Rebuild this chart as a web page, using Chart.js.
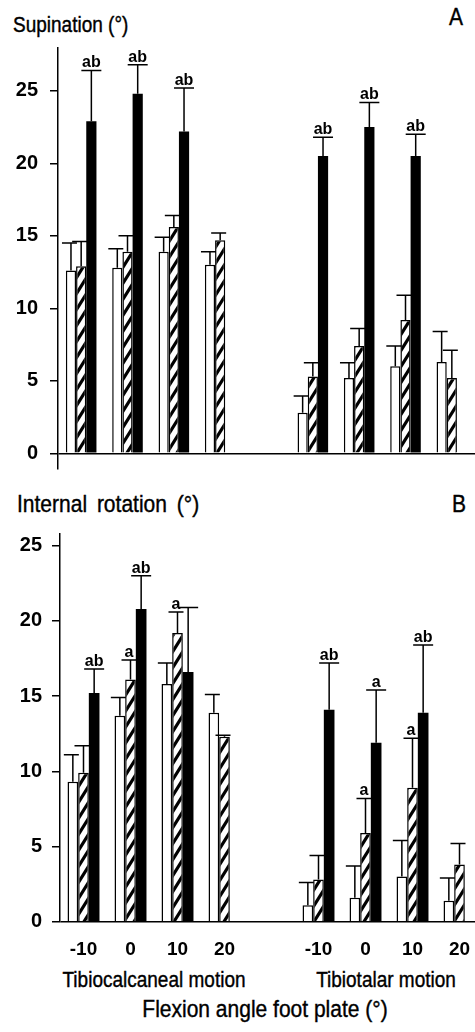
<!DOCTYPE html>
<html>
<head>
<meta charset="utf-8">
<script src="https://cdn.jsdelivr.net/npm/chart.js@4.4.1/dist/chart.umd.min.js"></script>
<style>
  body { margin: 0; width: 475px; height: 1032px; overflow: hidden; position: relative; background: #fff;
         font-family: "Liberation Sans", Arial, sans-serif; color: #000; }
  .lbl { position: absolute; white-space: nowrap; font-size: 19px; line-height: 19px;
         -webkit-text-stroke: 0.35px #000; transform-origin: 0 16px; transform: scaleY(1.18); }
  .big { font-size: 21px; line-height: 21px; transform-origin: 0 18px; }
  .mid { transform: translateX(-50%) scaleY(1.12); transform-origin: 50% 16px; }
  canvas { position: absolute; left: 0; }
</style>
</head>
<body>
<div class="lbl" style="left:13px;top:16px">Supination (°)</div>
<div class="lbl big" style="left:449px;top:7px">A</div>
<div class="lbl big" style="left:17px;top:494px;word-spacing:4px">Internal rotation (°)</div>
<div class="lbl big" style="left:452px;top:494px">B</div>
<div class="lbl mid" style="left:154px;top:971px">Tibiocalcaneal motion</div>
<div class="lbl mid" style="left:386px;top:971px">Tibiotalar motion</div>
<div class="lbl big mid" style="left:265px;top:999px">Flexion angle foot plate (°)</div>
<canvas id="supination" width="475" height="470" style="top:0"></canvas>
<canvas id="rotation" width="490" height="552" style="top:480px"></canvas>
<script>
// flexion angles, tibiocalcaneal block, empty gap, tibiotalar block
const categories = ["-10", "0", "10", "20", "", "-10", "0", "10", "20"];
const yTickValues = [0, 5, 10, 15, 20, 25];

// A: supination (deg), mean and upper SD
const supOpen = [12.6, 12.8, 13.9, 13.0, null, 2.8, 5.2, 6.0, 6.3];
const supOpenSd = [1.9, 1.3, 1.0, 0.9, null, 1.15, 1.05, 1.4, 2.1];
const supHatch = [12.9, 13.9, 15.6, 14.7, null, 5.3, 7.4, 9.2, 5.2];
const supHatchSd = [1.7, 1.1, 0.8, 0.5, null, 0.95, 1.2, 1.7, 1.9];
const supSolid = [22.9, 24.8, 22.2, null, null, 20.5, 22.5, 20.5, null];
const supSolidSd = [3.5, 2.0, 3.0, null, null, 1.3, 1.7, 1.5, null];
const supSolidSig = ["ab", "ab", "ab", "", "", "ab", "ab", "ab", ""];

// B: internal rotation (deg)
const rotOpen = [9.3, 13.7, 15.8, 13.9, null, 1.1, 1.6, 3.0, 1.4];
const rotOpenSd = [1.8, 1.2, 1.4, 1.2, null, 1.5, 2.1, 2.4, 1.5];
const rotHatch = [9.9, 16.1, 19.2, 12.3, null, 2.8, 5.9, 8.9, 3.8];
const rotHatchSd = [1.8, 1.3, 1.4, 0.1, null, 1.6, 2.3, 3.3, 1.4];
const rotHatchSig = ["", "a", "a", "", "", "", "a", "a", ""];
const rotSolid = [15.2, 20.8, 16.6, null, null, 14.1, 11.9, 13.9, null];
const rotSolidSd = [1.6, 2.2, 4.3, null, null, 3.1, 3.5, 4.5, null];
const rotSolidSig = ["ab", "ab", "", "", "", "ab", "a", "ab", ""];

const FONT = '"Liberation Sans", Arial, sans-serif';

function hatchPattern() {
  const c = document.createElement("canvas");
  c.width = 10; c.height = 16;
  const g = c.getContext("2d");
  g.fillStyle = "#fff";
  g.fillRect(0, 0, 10, 16);
  g.strokeStyle = "#000";
  g.lineWidth = 3.2;
  for (const dx of [-10, 0, 10]) {
    g.beginPath();
    g.moveTo(dx - 5, 24);
    g.lineTo(dx + 15, -8);
    g.stroke();
  }
  return g.createPattern(c, "repeat");
}
const hatch = hatchPattern();

// upward error bars with significance letters above the cap
const errorBars = {
  id: "errorBars",
  afterDatasetsDraw(chart) {
    const ctx = chart.ctx, y = chart.scales.y;
    chart.data.datasets.forEach((ds, i) => {
      chart.getDatasetMeta(i).data.forEach((bar, j) => {
        const v = ds.data[j], sd = ds.sd[j];
        if (v == null || sd == null) return;
        const yCap = y.getPixelForValue(v + sd);
        const [l, r] = ds.capSpan;
        ctx.save();
        ctx.strokeStyle = "#000";
        ctx.lineWidth = 1.5;
        ctx.beginPath();
        ctx.moveTo(bar.x, bar.y);
        ctx.lineTo(bar.x, yCap);
        ctx.moveTo(bar.x + l, yCap);
        ctx.lineTo(bar.x + r, yCap);
        ctx.stroke();
        const s = ds.sig && ds.sig[j];
        if (s) {
          ctx.fillStyle = "#000";
          ctx.font = "bold 16px " + FONT;
          ctx.textAlign = "center";
          ctx.textBaseline = "alphabetic";
          ctx.fillText(s, bar.x + (l + r) / 2, yCap - 3);
        }
        ctx.restore();
      });
    });
  }
};

function datasets(open, openSd, hatched, hatchedSd, hatchedSig, solid, solidSd, solidSig) {
  return [
    { data: open, sd: openSd, capSpan: [-9, 6], backgroundColor: "#fff", borderColor: "#000", borderWidth: 1.5 },
    { data: hatched, sd: hatchedSd, sig: hatchedSig, capSpan: [-9, 6], backgroundColor: hatch, borderColor: "#000", borderWidth: 1.5 },
    { data: solid, sd: solidSd, sig: solidSig, capSpan: [-10, 10], backgroundColor: "#000", borderWidth: 0 },
  ];
}

function makeChart(id, sets, cfg) {
  return new Chart(document.getElementById(id), {
    type: "bar",
    data: { labels: categories, datasets: sets },
    options: {
      responsive: false,
      animation: false,
      categoryPercentage: cfg.catPct,
      barPercentage: 1,
      layout: { padding: cfg.padding },
      plugins: { legend: { display: false }, tooltip: { enabled: false } },
      scales: {
        x: {
          display: cfg.showX,
          grid: { display: false, drawTicks: false },
          border: { display: false },
          ticks: { color: "#000", padding: 17, font: { family: FONT, size: 19, weight: "bold" }, maxRotation: 0, autoSkip: false },
          afterFit: s => { s.height = cfg.xHeight; s.paddingLeft = 0; s.paddingRight = 0; },
        },
        y: {
          min: cfg.yMin,
          max: cfg.yMax,
          afterBuildTicks: s => { s.ticks = yTickValues.map(v => ({ value: v })); },
          afterFit: s => { s.width = cfg.yWidth; s.paddingTop = 0; s.paddingBottom = 0; },
          border: { display: true, color: "#000", width: 1.5 },
          grid: {
            color: c => (c.tick && c.tick.value === 0 ? "#000" : "rgba(0,0,0,0)"),
            lineWidth: 1.5,
            tickColor: "#000",
            tickLength: 8,
            tickWidth: 1.5,
          },
          ticks: { color: "#000", padding: cfg.tickPad, font: { family: FONT, size: 20, weight: "bold" } },
        },
      },
    },
    plugins: [errorBars],
  });
}

makeChart("supination",
  datasets(supOpen, supOpenSd, supHatch, supHatchSd, null, supSolid, supSolidSd, supSolidSig),
  { yMin: -1.05, yMax: 28, yWidth: 58, tickPad: 12, catPct: 0.66, showX: false, xHeight: 0,
    padding: { top: 47.3, bottom: 1.5, left: 0, right: 0 } });

makeChart("rotation",
  datasets(rotOpen, rotOpenSd, rotHatch, rotHatchSd, rotHatchSig, rotSolid, rotSolidSd, rotSolidSig),
  { yMin: 0, yMax: 25.8, yWidth: 60, tickPad: 10, catPct: 0.68, showX: true, xHeight: 110.3,
    padding: { top: 53.7, bottom: 0, left: 0, right: 7 } });
</script>
</body>
</html>
